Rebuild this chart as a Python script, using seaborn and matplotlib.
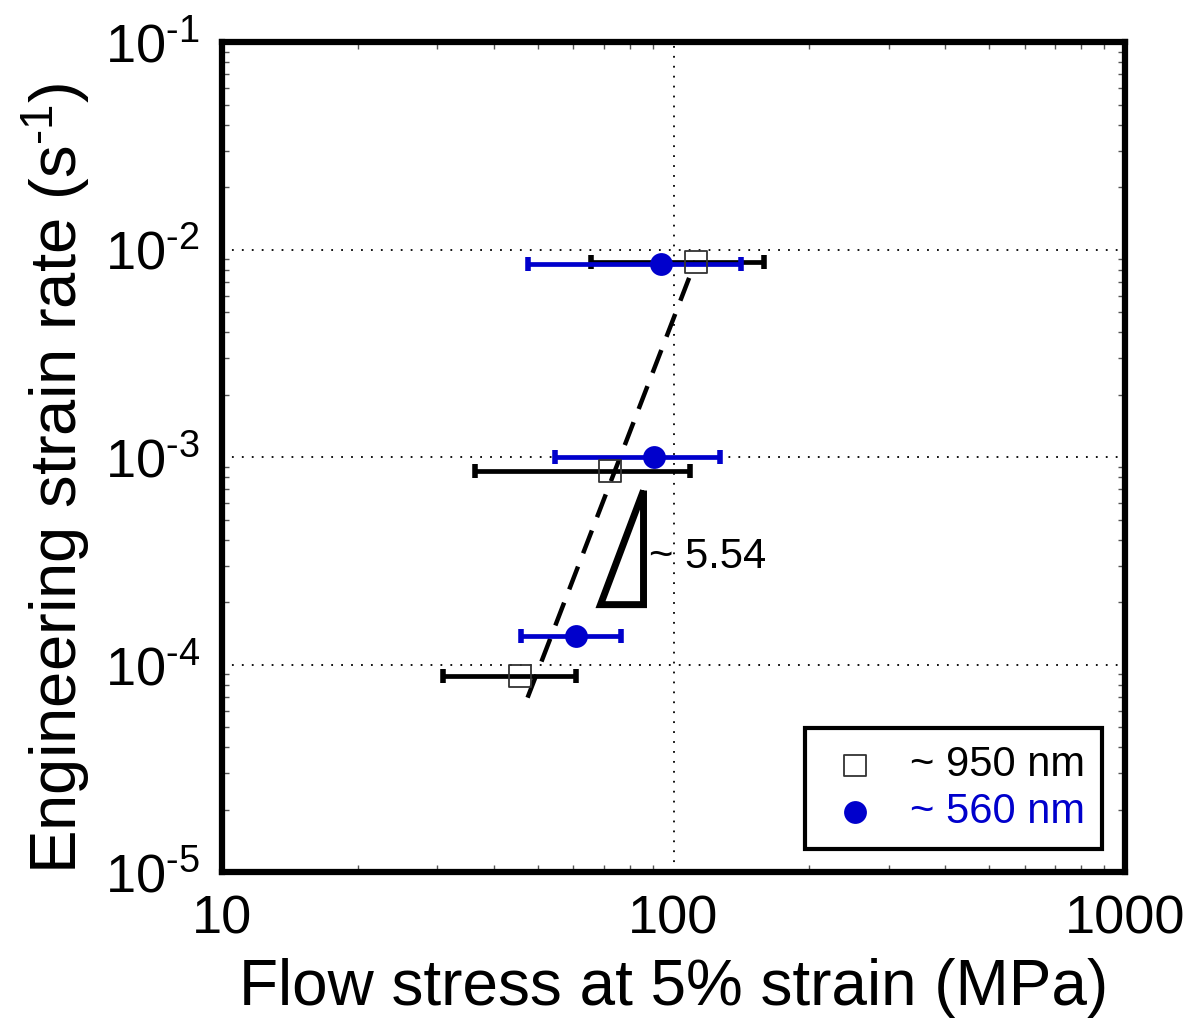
import numpy as np
import pandas as pd
import matplotlib
matplotlib.use("Agg")
import matplotlib.pyplot as plt
from matplotlib.ticker import LogLocator, FixedLocator, NullFormatter
import seaborn as sns

# ~950 nm pillars
stress_950 = [111.9, 72.4, 45.8]
err_lo_950 = [65.5, 36.4, 30.8]
err_hi_950 = [158.3, 109.0, 60.9]
rate_950 = [8.75e-3, 8.6e-4, 8.85e-5]

# ~560 nm pillars
stress_560 = [94.0, 90.3, 60.7]
err_lo_560 = [47.5, 54.7, 46.0]
err_hi_560 = [141.0, 127.0, 76.3]
rate_560 = [8.56e-3, 1.0e-3, 1.38e-4]

# power-law fit line (slope ~5.54 in log-log)
fit_stress = [47.5, 111.9]
fit_rate = [6.93e-5, 8.8e-3]

# slope triangle, drawn from the top corner round to the top corner again
tri_stress = [85.8, 68.9, 85.8, 85.8]
tri_rate = [6.9e-4, 1.945e-4, 1.945e-4, 6.9e-4]
slope_label = "~ 5.54"

legend_labels = ["~ 950 nm", "~ 560 nm"]
x_tick_values = [10, 100, 1000]
x_tick_labels = ["10", "100", "1000"]
y_tick_values = [1e-5, 1e-4, 1e-3, 1e-2, 1e-1]
y_tick_labels = [r"$\mathregular{10^{\text{-}%d}}$" % k for k in (5, 4, 3, 2, 1)]
blue = "#0000CC"

sns.set_theme(style="white")
plt.rcParams["font.family"] = ["Liberation Sans", "DejaVu Sans"]
plt.rcParams["mathtext.fontset"] = "custom"
plt.rcParams["mathtext.rm"] = "Liberation Sans"
plt.rcParams["mathtext.it"] = "Liberation Sans"
plt.rcParams["axes.unicode_minus"] = False
for key in ("text.color", "axes.labelcolor", "xtick.color", "ytick.color"):
    plt.rcParams[key] = "black"

fig = plt.figure(figsize=(11.83, 10.26), dpi=100)
ax = fig.add_axes([0.1877, 0.150, 0.7633, 0.809])

ax.set_xscale("log")
ax.set_yscale("log")
ax.set_xlim(10, 1000)
ax.set_ylim(1e-5, 1e-1)

# grid at the decades
ax.xaxis.set_major_locator(FixedLocator(x_tick_values))
ax.yaxis.set_major_locator(FixedLocator(y_tick_values))
ax.grid(True, which="major", color="black", linestyle=(0, (1, 4.5)), linewidth=1.3)

# fit line
ax.plot(fit_stress, fit_rate, color="black", linestyle=(0, (5.5, 3.2)), linewidth=3.2, zorder=3)

# slope triangle
ax.plot(tri_stress, tri_rate, color="black", linewidth=5.0, solid_joinstyle="miter",
        solid_capstyle="butt", zorder=3)
ax.text(88.3, 3.3e-4, slope_label, fontsize=30, ha="left", va="center", color="black")

# error bars
ex950 = [np.array(stress_950) - np.array(err_lo_950), np.array(err_hi_950) - np.array(stress_950)]
ex560 = [np.array(stress_560) - np.array(err_lo_560), np.array(err_hi_560) - np.array(stress_560)]
ax.errorbar(stress_950, rate_950, xerr=ex950, fmt="none", ecolor="black",
            elinewidth=3.4, capsize=5, capthick=4.0, zorder=4)
ax.errorbar(stress_560, rate_560, xerr=ex560, fmt="none", ecolor=blue,
            elinewidth=3.4, capsize=5, capthick=4.0, zorder=5)

df = pd.DataFrame({
    "stress": stress_950 + stress_560,
    "rate": rate_950 + rate_560,
    "size": [legend_labels[0]] * 3 + [legend_labels[1]] * 3,
})
sns.scatterplot(data=df[df["size"] == legend_labels[0]], x="stress", y="rate",
                marker="s", s=250, facecolor="none", edgecolor="#333333",
                linewidth=1.3, ax=ax, zorder=6, label=legend_labels[0])
sns.scatterplot(data=df[df["size"] == legend_labels[1]], x="stress", y="rate",
                marker="o", s=270, color=blue, edgecolor=blue,
                linewidth=0, ax=ax, zorder=7, label=legend_labels[1])

# ticks
ax.xaxis.set_minor_locator(LogLocator(base=10, subs=np.arange(2, 10)))
ax.yaxis.set_minor_locator(LogLocator(base=10, subs=np.arange(2, 10)))
ax.xaxis.set_minor_formatter(NullFormatter())
ax.yaxis.set_minor_formatter(NullFormatter())
ax.set_xticklabels(x_tick_labels)
ax.set_yticklabels(y_tick_labels)
ax.tick_params(which="major", direction="in", length=0, labelsize=39, pad=16,
               top=True, right=True)
ax.tick_params(which="minor", direction="in", length=5, width=1.0, color="#555555",
               top=True, right=True, bottom=True, left=True)

for sp in ax.spines.values():
    sp.set_linewidth(4.5)
    sp.set_color("black")
    sp.set_visible(True)

ax.set_xlabel("Flow stress at 5% strain (MPa)", fontsize=46, labelpad=10)
ax.set_ylabel(r"Engineering strain rate (s$^{\mathregular{\text{-}1}}$)", fontsize=47)
ax.yaxis.set_label_coords(-0.143, 0.474)

leg = ax.legend(loc="lower right", fontsize=30, frameon=True, fancybox=False,
                framealpha=1, borderpad=0.42, handlelength=1.6, handletextpad=0.5,
                borderaxespad=0.55, labelspacing=0.15)
leg.get_frame().set_edgecolor("black")
leg.get_frame().set_linewidth(3.0)
for t, c in zip(leg.get_texts(), ["black", blue]):
    t.set_color(c)

fig.savefig("out.png", dpi=100)
